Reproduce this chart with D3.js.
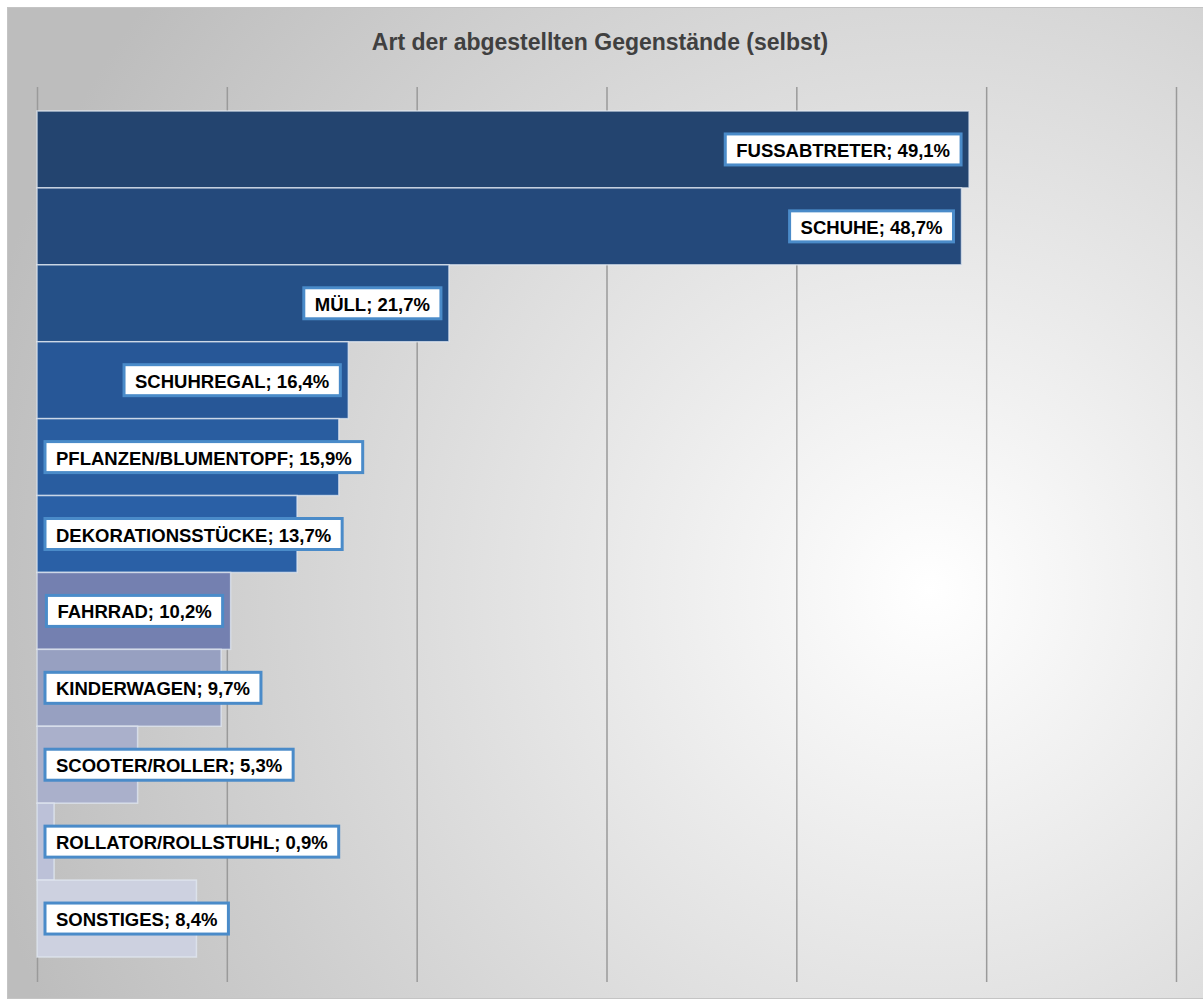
<!DOCTYPE html>
<html>
<head>
<meta charset="utf-8">
<script src="https://cdn.jsdelivr.net/npm/d3@7"></script>
<style>
  body { margin: 0; background: #fff; }
  svg { display: block; font-family: Arial, "Liberation Sans", sans-serif; }
</style>
</head>
<body>
<div id="chart"></div>
<script>
// data
const categories = ["FUSSABTRETER", "SCHUHE", "MÜLL", "SCHUHREGAL", "PFLANZEN/BLUMENTOPF",
  "DEKORATIONSSTÜCKE", "FAHRRAD", "KINDERWAGEN", "SCOOTER/ROLLER", "ROLLATOR/ROLLSTUHL", "SONSTIGES"];
const values = [49.1, 48.7, 21.7, 16.4, 15.9, 13.7, 10.2, 9.7, 5.3, 0.9, 8.4];
const xTicks = [0, 10, 20, 30, 40, 50, 60];

// bar fills, top to bottom
const colors = ["#23446f", "#24497b", "#255087", "#275797", "#295da0", "#2a60a6",
  "#7480b0", "#97a0c1", "#aab0cb", "#bcc1d8", "#cdd1e0"];

const W = 1203, H = 1005;
const plot = { left: 37, right: 1176, top: 87, bottom: 982 };

const svg = d3.select("#chart").append("svg")
  .attr("width", W)
  .attr("height", H);

// background gradient
const defs = svg.append("defs");
const grad = defs.append("radialGradient")
  .attr("id", "bg")
  .attr("gradientUnits", "userSpaceOnUse")
  .attr("cx", 930).attr("cy", 590).attr("r", 980);
grad.append("stop").attr("offset", "0%").attr("stop-color", "#ffffff");
grad.append("stop").attr("offset", "100%").attr("stop-color", "#bdbdbd");

svg.append("rect")
  .attr("x", 7.5).attr("y", 7.5)
  .attr("width", W - 7).attr("height", 991)
  .attr("fill", "url(#bg)")
  .attr("stroke", "#c4c4c4");

// title
svg.append("text")
  .attr("x", 600)
  .attr("y", 50)
  .attr("text-anchor", "middle")
  .attr("font-size", "23px")
  .attr("font-weight", "bold")
  .attr("fill", "#404040")
  .text("Art der abgestellten Gegenstände (selbst)");

const x = d3.scaleLinear()
  .domain([0, 60])
  .range([plot.left, plot.right]);

const y = d3.scaleBand()
  .domain(categories)
  .range([111, 957])
  .padding(0);

// vertical gridlines
svg.append("g")
  .attr("transform", `translate(0,${plot.bottom})`)
  .call(d3.axisBottom(x).tickValues(xTicks).tickSize(-(plot.bottom - plot.top)).tickFormat(""))
  .call(g => g.select(".domain").remove())
  .call(g => g.selectAll(".tick line").attr("stroke", "#9a9a9a").attr("stroke-width", 1.5));

// bars
svg.append("g")
  .selectAll("rect")
  .data(values)
  .join("rect")
  .attr("x", x(0))
  .attr("y", (d, i) => y(categories[i]))
  .attr("width", d => x(d) - x(0))
  .attr("height", y.bandwidth())
  .attr("fill", (d, i) => colors[i])
  .attr("stroke", "rgba(225,232,242,0.75)")
  .attr("stroke-width", 1.5);

// data labels
const labels = svg.append("g")
  .selectAll("g")
  .data(values)
  .join("g");

labels.each(function(d, i) {
  const g = d3.select(this);
  const txt = g.append("text")
    .attr("font-size", "18.5px")
    .attr("font-weight", "bold")
    .attr("fill", "#000")
    .attr("dominant-baseline", "central")
    .text(`${categories[i]}; ${d.toFixed(1).replace(".", ",")}%`);
  const tw = txt.node().getComputedTextLength();
  const bw = tw + 22, bh = 31;
  let right = x(d) - 8;
  let left = right - bw;
  if (left < 45) left = 45;
  const cy = y(categories[i]) + y.bandwidth() / 2;
  g.insert("rect", "text")
    .attr("x", left)
    .attr("y", cy - bh / 2)
    .attr("width", bw)
    .attr("height", bh)
    .attr("fill", "#fff")
    .attr("stroke", "#4a8bc9")
    .attr("stroke-width", 3);
  txt.attr("x", left + 11).attr("y", cy + 1);
});
</script>
</body>
</html>
